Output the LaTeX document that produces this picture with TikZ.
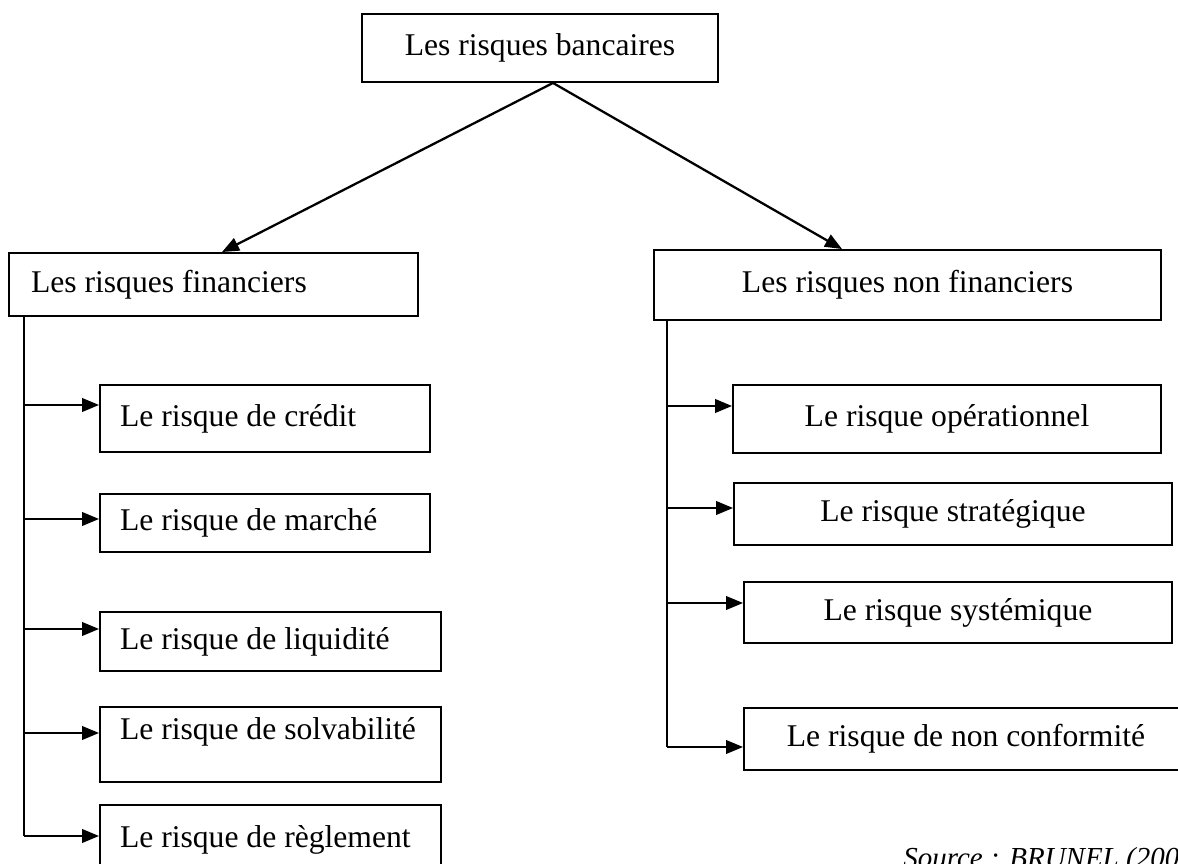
\documentclass[tikz,border=0pt]{standalone}
\usepackage{fontspec}
\setmainfont{Liberation Serif}
\usetikzlibrary{arrows.meta}

\tikzset{
	box/.style={draw, line width=1.1pt, inner ysep=0pt, font=\fontsize{18}{22}\selectfont},
	lbox/.style={box, align=flush left, inner xsep=0.4cm},
	cbox/.style={box, align=center, inner xsep=0pt},
}

\begin{document}
\begin{tikzpicture}[x=0.02cm, y=-0.02cm, >={Triangle[length=0.34cm,width=0.27cm]}]
		\useasboundingbox (0,0) rectangle (1178,864);
		\clip (0,0) rectangle (1178,864);
		% top and the two families
		\node[cbox, minimum width=7.12cm, minimum height=1.36cm] (bk) at (540,48) {Les risques bancaires};
		\node[lbox, inner xsep=0.44cm, text width=7.3cm, minimum height=1.26cm] (fin) at (213.5,284.5) {Les risques financiers};
		\node[cbox, minimum width=10.14cm, minimum height=1.4cm] (nfin) at (907.5,285) {Les risques non financiers};
		%
		\node[lbox, text width=5.8cm, minimum height=1.34cm] (cr) at (265,418.5) {Le risque de crédit};
		\node[lbox, text width=5.8cm, minimum height=1.16cm] (ma) at (265,523) {Le risque de marché};
		\node[lbox, text width=6.02cm, minimum height=1.18cm] (li) at (270.5,641.5) {Le risque de liquidité};
		\node[lbox, text width=6.02cm, minimum height=1.5cm, text depth=0.62cm] (so) at (270.5,744.5) {Le risque de solvabilité};
		\node[lbox, text width=6.02cm, minimum height=1.4cm] (re) at (270.5,840) {Le risque de règlement};
		%
		\node[cbox, minimum width=8.56cm, minimum height=1.36cm] (op) at (947,419) {Le risque opérationnel};
		\node[cbox, minimum width=8.76cm, minimum height=1.24cm] (st) at (953,514) {Le risque stratégique};
		\node[cbox, minimum width=8.56cm, minimum height=1.22cm] (sy) at (958,612.5) {Le risque systémique};
		\node[cbox, minimum width=8.88cm, minimum height=1.24cm] (nc) at (966,739) {Le risque de non conformité};
		%
		\node[anchor=base west, inner sep=0pt, font=\fontsize{16.5}{20}\selectfont\itshape] (src) at (903,868) {Source : BRUNEL (200};
		%
		\coordinate (l1) at (24,405);
		\coordinate (l2) at (24,519);
		\coordinate (l3) at (24,629);
		\coordinate (l4) at (24,733);
		\coordinate (l5) at (24,836);
		\coordinate (r1) at (667,406);
		\coordinate (r2) at (667,508);
		\coordinate (r3) at (667,603);
		\coordinate (r4) at (667,747);
		%
		\draw[line width=1.3pt] (fin.south west -| l1) -- (l5);
		\draw[line width=1.3pt] (nfin.south west -| r1) -- (r4);
		\path[->, line width=1.3pt]
		([xshift=0.26cm]bk.south) edge ([xshift=0.17cm]fin.north)
		([xshift=0.26cm]bk.south) edge ([xshift=-1.31cm]nfin.north)
		(l1) edge (l1 -| cr.west)
		(l2) edge (l2 -| ma.west)
		(l3) edge (l3 -| li.west)
		(l4) edge (l4 -| so.west)
		(l5) edge (l5 -| re.west)
		(r1) edge (r1 -| op.west)
		(r2) edge (r2 -| st.west)
		(r3) edge (r3 -| sy.west)
		(r4) edge (r4 -| nc.west);
	\end{tikzpicture}
\end{document}
